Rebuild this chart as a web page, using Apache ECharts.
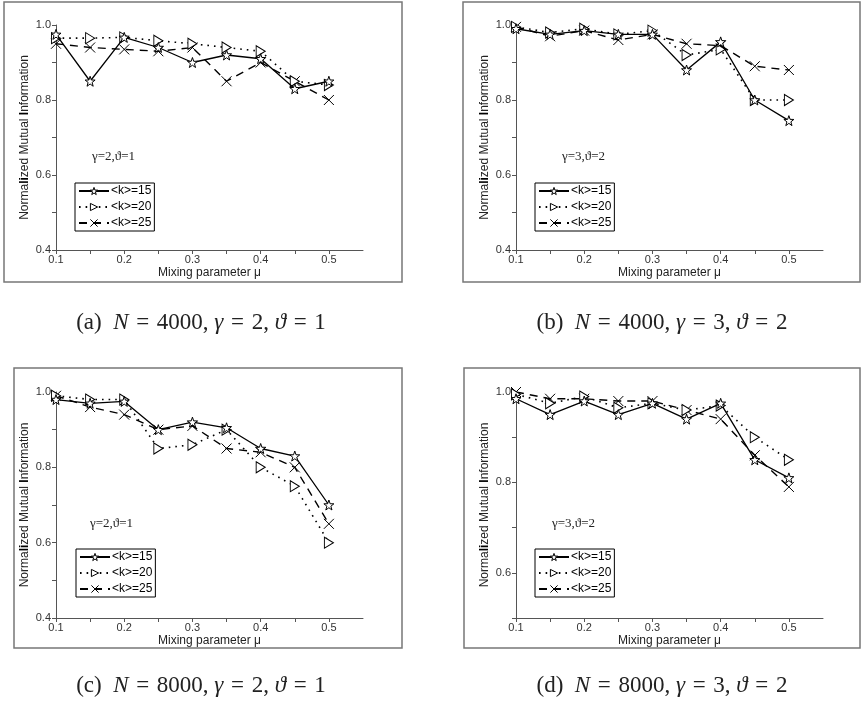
<!DOCTYPE html>
<html lang="en">
<head>
<meta charset="UTF-8">
<title>NMI vs mixing parameter</title>
<script src="https://cdn.jsdelivr.net/npm/echarts@6/dist/echarts.min.js"></script>
<style>
  html, body { margin: 0; padding: 0; background: #fff; }
  #main { width: 861px; height: 709px; }
</style>
</head>
<body>
<div id="main"></div>
<script>
// x values (mixing parameter)
var mu = [0.1, 0.15, 0.2, 0.25, 0.3, 0.35, 0.4, 0.45, 0.5];
var names = ['<k>=15', '<k>=20', '<k>=25'];

// (a) N=4000, gamma=2, theta=1
var a15 = [0.975, 0.85, 0.967, 0.94, 0.90, 0.92, 0.91, 0.83, 0.85];
var a20 = [0.965, 0.965, 0.967, 0.958, 0.95, 0.94, 0.93, 0.85, 0.84];
var a25 = [0.95, 0.94, 0.935, 0.93, 0.94, 0.85, 0.90, 0.85, 0.80];
// (b) N=4000, gamma=3, theta=2
var b15 = [0.99, 0.975, 0.985, 0.975, 0.975, 0.88, 0.955, 0.80, 0.745];
var b20 = [0.995, 0.98, 0.99, 0.975, 0.985, 0.92, 0.935, 0.80, 0.80];
var b25 = [0.995, 0.97, 0.985, 0.96, 0.975, 0.95, 0.945, 0.89, 0.88];
// (c) N=8000, gamma=2, theta=1
var c15 = [0.98, 0.97, 0.975, 0.90, 0.92, 0.905, 0.85, 0.83, 0.70];
var c20 = [0.99, 0.98, 0.98, 0.85, 0.86, 0.90, 0.80, 0.75, 0.60];
var c25 = [0.99, 0.96, 0.94, 0.90, 0.91, 0.85, 0.84, 0.80, 0.65];
// (d) N=8000, gamma=3, theta=2
var d15 = [0.985, 0.95, 0.98, 0.95, 0.975, 0.94, 0.975, 0.85, 0.81];
var d20 = [0.995, 0.975, 0.99, 0.965, 0.975, 0.96, 0.97, 0.90, 0.85];
var d25 = [1.0, 0.985, 0.985, 0.98, 0.98, 0.96, 0.94, 0.86, 0.79];

var xTicks = [0.1, 0.15, 0.2, 0.25, 0.3, 0.35, 0.4, 0.45, 0.5];
var xLabels = [0.1, 0.2, 0.3, 0.4, 0.5];
var yTicksFull = [0.4, 0.5, 0.6, 0.7, 0.8, 0.9, 1.0];
var yLabelsFull = [0.4, 0.6, 0.8, 1.0];
var yTicksShort = [0.5, 0.6, 0.7, 0.8, 0.9, 1.0];
var yLabelsShort = [0.6, 0.8, 1.0];

var chart = echarts.init(document.getElementById('main'));

var starPath = 'path://M10,0L12.35,6.76L19.51,6.91L13.8,11.24L15.88,18.09L10,14L4.12,18.09L6.2,11.24L0.49,6.91L7.65,6.76Z';
var triPath = 'path://M0,0L9,5L0,10Z';
var crossPath = 'path://M0,0L10,10M10,0L0,10';

var styles = [
  { symbol: starPath, size: 10, line: { color: '#000', width: 1.3, type: 'solid' } },
  { symbol: triPath, size: [9, 11], line: { color: '#000', width: 1.6, type: [1.6, 5] } },
  { symbol: crossPath, size: 10, line: { color: '#000', width: 1.4, type: [8, 6] } }
];

var panels = [
  { data: [a15, a20, a25], left: 56, top: 25, height: 225, ymin: 0.4, ticks: yTicksFull, labels: yLabelsFull,
    box: [4, 2, 398, 280], note: 'γ=2,ϑ=1', noteAt: [92, 157], legendAt: [75, 183],
    caption: ['(a)', '4000', '2', '1'], capAt: [201, 323] },
  { data: [b15, b20, b25], left: 516, top: 25, height: 225, ymin: 0.4, ticks: yTicksFull, labels: yLabelsFull,
    box: [463, 2, 397, 280], note: 'γ=3,ϑ=2', noteAt: [562, 157], legendAt: [535, 183],
    caption: ['(b)', '4000', '3', '2'], capAt: [662, 323] },
  { data: [c15, c20, c25], left: 56, top: 392, height: 226, ymin: 0.4, ticks: yTicksFull, labels: yLabelsFull,
    box: [14, 368, 388, 280], note: 'γ=2,ϑ=1', noteAt: [90, 524], legendAt: [76, 549],
    caption: ['(c)', '8000', '2', '1'], capAt: [201, 686] },
  { data: [d15, d20, d25], left: 516, top: 392, height: 226, ymin: 0.5, ticks: yTicksShort, labels: yLabelsShort,
    box: [464, 368, 396, 280], note: 'γ=3,ϑ=2', noteAt: [552, 524], legendAt: [535, 549],
    caption: ['(d)', '8000', '3', '2'], capAt: [662, 686] }
];

var grids = [], xAxes = [], yAxes = [], series = [], legends = [], graphics = [];
var axisColor = '#555';
var eq = '\u2004=\u2004';

panels.forEach(function (p, i) {
  grids.push({ left: p.left, top: p.top, width: 307, height: p.height });
  xAxes.push({
    type: 'value', gridIndex: i, min: 0.1, max: 0.55, interval: 0.1,
    name: 'Mixing parameter μ', nameLocation: 'middle', nameGap: 17,
    nameTextStyle: { fontFamily: 'Liberation Sans', fontSize: 12, color: '#222' },
    axisLine: { lineStyle: { color: axisColor, width: 1 } },
    axisTick: { customValues: xTicks, length: 4, lineStyle: { color: axisColor } },
    axisLabel: { customValues: xLabels, margin: 4, fontFamily: 'Liberation Sans', fontSize: 11, color: '#333',
      formatter: function (v) { return v.toFixed(1); } },
    splitLine: { show: false }
  });
  yAxes.push({
    type: 'value', gridIndex: i, min: p.ymin, max: 1.0, interval: 0.1,
    name: '{n|Norma}{b|li}{n|zed Mutual }{b|I}{n|nformation}',
    nameLocation: 'middle', nameRotate: 90, nameGap: 25,
    nameTextStyle: {
      rich: {
        n: { fontFamily: 'Liberation Sans', fontSize: 12, color: '#222' },
        b: { fontFamily: 'Liberation Sans', fontSize: 12, color: '#000', fontWeight: 'bold' }
      }
    },
    axisLine: { show: true, lineStyle: { color: axisColor, width: 1 } },
    axisTick: { show: true, customValues: p.ticks, length: 4, lineStyle: { color: axisColor } },
    axisLabel: { customValues: p.labels, margin: 5, fontFamily: 'Liberation Sans', fontSize: 11, color: '#333',
      formatter: function (v) { return v.toFixed(1); } },
    splitLine: { show: false }
  });
  p.data.forEach(function (vals, k) {
    var st = styles[k];
    series.push({
      type: 'line', name: names[k], xAxisIndex: i, yAxisIndex: i,
      data: mu.map(function (x, j) { return [x, vals[j]]; }),
      symbol: st.symbol, symbolSize: st.size, showAllSymbol: true,
      lineStyle: st.line,
      itemStyle: { color: '#fff', borderColor: '#000', borderWidth: 1 },
      z: 3 - k
    });
  });
  legends.push({
    left: p.legendAt[0], top: p.legendAt[1], orient: 'vertical',
    data: names, selectedMode: false,
    itemWidth: 30, itemHeight: 9, itemGap: 4,
    padding: [2, 3, 2, 3],
    borderColor: '#000', borderWidth: 1, backgroundColor: '#fff',
    itemStyle: { color: '#fff', borderColor: '#000', borderWidth: 1 },
    textStyle: { fontFamily: 'Liberation Sans', fontSize: 12, color: '#000', padding: [0, 0, 0, -3] }
  });
  graphics.push({
    type: 'rect', shape: { x: p.box[0], y: p.box[1], width: p.box[2], height: p.box[3] },
    style: { fill: 'none', stroke: '#777', lineWidth: 1.5 }, silent: true
  });
  graphics.push({
    type: 'text', x: p.noteAt[0], y: p.noteAt[1],
    style: { text: p.note, font: '13px "Liberation Serif"', fill: '#222', verticalAlign: 'middle' }
  });
  var c = p.caption;
  graphics.push({
    type: 'text', x: p.capAt[0], y: p.capAt[1],
    style: {
      text: '{r|' + c[0] + '\u2002}{i|N}{r|' + eq + c[1] + ', }{i|γ}{r|' + eq + c[2] + ', }{i|ϑ}{r|' + eq + c[3] + '}',
      align: 'center', verticalAlign: 'middle',
      rich: {
        r: { fontFamily: 'Liberation Serif', fontSize: 23, fill: '#222' },
        i: { fontFamily: 'Liberation Serif', fontSize: 23, fontStyle: 'italic', fill: '#222' }
      }
    }
  });
});

chart.setOption({
  animation: false,
  backgroundColor: '#fff',
  grid: grids,
  xAxis: xAxes,
  yAxis: yAxes,
  legend: legends,
  series: series,
  graphic: graphics
});
</script>
</body>
</html>
